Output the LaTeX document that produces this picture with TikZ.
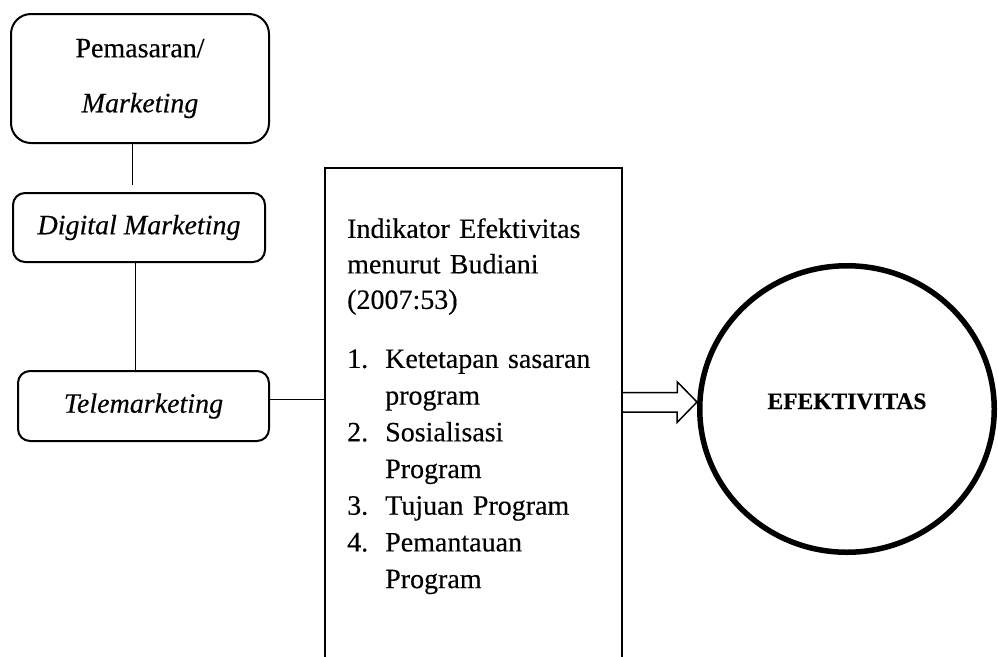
\documentclass[tikz,border=0pt]{standalone}
\usepackage{fontspec}
\setmainfont{Liberation Serif}[FakeBold=0.3]
\usetikzlibrary{shapes.geometric}

\begin{document}
\begin{tikzpicture}[x=1pt,y=1pt]
  \tikzstyle{BoxStyle}=[draw,line width=2pt,rounded corners=12pt,align=center,
                        font=\fontsize{28}{35}\selectfont]
  \tikzstyle{LinkStyle}=[line width=1pt]
  \tikzstyle{ArrowStyle}=[line width=1.5pt,line join=miter]
  \tikzstyle{GoalStyle}=[draw,ellipse,line width=5.5pt,inner sep=0pt,
                         text height=0pt,text depth=0pt,
                         font=\fontsize{23.5}{26}\selectfont\bfseries]
  \useasboundingbox (0,0) rectangle (998,-656);
  \coordinate (pagebot) at (0,-660);
  \node[BoxStyle,rounded corners=20pt,minimum width=258pt,minimum height=129pt] (pem) at (140,-78.5)
       {Pemasaran/\\[20pt]\textit{Marketing}};
  \node[BoxStyle,minimum width=252pt,minimum height=69pt] (dig) at (139,-227.5)
       {\textit{Digital Marketing}};
  \node[BoxStyle,minimum width=251pt,minimum height=70pt] (tele) at (143.5,-406)
       {\textit{Telemarketing}};
  \node[anchor=north west,inner xsep=22pt,inner ysep=50pt,text width=253pt,align=left,
        font=\fontsize{28}{35.5}\selectfont] (ind) at (325,-168)
       {Indikator Efektivitas\\menurut Budiani\\(2007:53)\\[23.5pt]%
        {\fontsize{28}{36.7}\selectfont
        \begin{tabular}[t]{@{}p{38pt}@{}l@{}}
          1. & Ketetapan sasaran\\
             & program\\
          2. & Sosialisasi\\
             & Program\\
          3. & Tujuan Program\\
          4. & Pemantauan\\
             & Program
        \end{tabular}}};
  \node[GoalStyle,minimum width=294.5pt,minimum height=286.5pt] (eff) at (847,-409) {EFEKTIVITAS};
  \coordinate (tip) at (697,-402);
  % open box round the indicators
  \draw[line width=2pt,line join=miter] (ind.north west |- pagebot) -- (ind.north west)
       -- (ind.north east) -- (ind.north east |- pagebot);
  \draw[LinkStyle,shorten >=7pt] ([xshift=-8pt]pem.south) -- ([xshift=-8pt]pem.south |- dig.north);
  \draw[LinkStyle] ([xshift=-4pt]dig.south) -- ([xshift=-4pt]dig.south |- tele.north);
  \draw[LinkStyle] ([yshift=7pt]tele.east) -- ([yshift=7pt]tele.east -| ind.west);
  \draw[ArrowStyle] (ind.north east |- tip) ++(0,9.5) -- ++(55,0) -- ++(0,10.5) -- (tip)
       -- ++(-20,-20.5) -- ++(0,10.5) -- ++(-55,0);
\end{tikzpicture}
\end{document}
